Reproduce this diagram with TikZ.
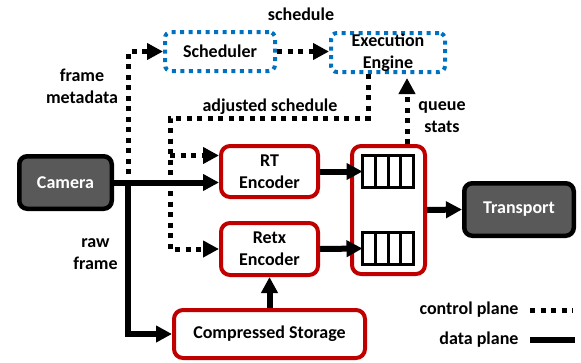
\documentclass[tikz,border=0pt]{standalone}
\usepackage{fontspec}
\setmainfont{Carlito}
\usetikzlibrary{arrows.meta, calc}

\definecolor{boxred}{HTML}{C00000}
\definecolor{ctrlblue}{HTML}{0070C0}
\definecolor{devgray}{HTML}{595959}

\begin{document}
\begin{tikzpicture}[x=1pt, y=-1pt,
		every node/.style={font=\fontsize{18}{22}\selectfont\bfseries, align=center},
		device/.style={fill=devgray, draw=black, line width=4.5pt, rounded corners=8pt, text=white, minimum height=52.5pt},
		module/.style={draw=boxred, fill=white, line width=4pt, rounded corners=9pt},
		planner/.style={draw=ctrlblue, line width=4pt, dash pattern=on 4pt off 4.5pt, rounded corners=6pt, inner ysep=0pt, minimum height=39pt},
		queue/.style={draw=black, fill=white, line width=3pt, minimum width=51pt, minimum height=32pt, inner sep=0pt, outer sep=0pt},
		data/.style={line width=6pt, -{Triangle[length=16pt,width=16pt]}},
		ctrl/.style={line width=5pt, dash pattern=on 5pt off 5.5pt, -{Triangle[length=16pt,width=16pt]}}]
			\useasboundingbox (0,0) rectangle (581,362);
			% boxes
			\node [device, minimum width=92.5pt] (camera) at (65.5,182.5) {Camera};
			\node [device, minimum width=109.5pt] (transport) at (519,209.5) {Transport};
			\node [module, minimum width=97pt, minimum height=51pt] (rt) at (269.5,171.5) {RT\\Encoder};
			\node [module, minimum width=97pt, minimum height=52pt] (retx) at (269.5,249) {Retx\\Encoder};
			\node [module, minimum width=191pt, minimum height=48pt] (storage) at (269.5,334) {Compressed Storage};
			\node [module, minimum width=73pt, minimum height=128pt] (buffer) at (388.5,210) {};
			\node [queue] (rtq) at (388,171.5) {};
			\node [queue] (retxq) at (388,248.5) {};
			\foreach \q in {rtq,retxq}
				\foreach \i in {1,2,3}
					\draw [line width=3pt] ($(\q.north west)!\i/4!(\q.north east)$) -- ($(\q.south west)!\i/4!(\q.south east)$);
			\node [planner, minimum width=110pt] (scheduler) at (220,51.5) {Scheduler};
			\node [planner, minimum width=114pt] (engine) at (388,52.5) {Execution\\Engine};
			% labels
			\node (schedlabel) at (301,14) {schedule};
			\node (metalabel) at (82,86) {frame\\metadata};
			\node (adjlabel) at (270,107) {adjusted schedule};
			\node (statslabel) at (442,117) {queue\\stats};
			\node (rawlabel) at (95.5,254) {raw\\frame};
			\node [anchor=east] (ctrllabel) at (522,310) {control plane};
			\node [anchor=east] (datalabel) at (522,340) {data plane};
			% data plane
			\coordinate (split) at (128,182.5);
			\draw [data] (camera.east) -- (camera.east -| rt.west);
			\draw [data] (split) |- (storage.west);
			\draw [data] (rt.east) -- (rtq.west);
			\draw [data] (retx.east) -- (retxq.west);
			\draw [data] (buffer.east) -- (transport.west);
			\draw [data] (storage.north) -- (retx.south);
			% control plane
			\coordinate (metatap) at (128,174);
			\coordinate (adjcorner) at (170,118);
			\coordinate (rtctl) at ([yshift=16pt]rt.west);
			\coordinate (engtap) at ([xshift=-20pt]engine.south);
			\coordinate (statstap) at ([xshift=18.5pt]buffer.north);
			\draw [ctrl] (metatap) |- (scheduler.west);
			\draw [ctrl] (scheduler.east) -- (scheduler.east -| engine.west);
			\draw [ctrl] (engtap) |- (adjcorner) |- (retx.west);
			\draw [ctrl] (adjcorner |- rtctl) -- (rtctl);
			\draw [ctrl, shorten >=4pt] (statstap) -- (statstap |- engine.south);
			% legend
			\draw [ctrl, -] ([xshift=8pt]ctrllabel.east) -- ++(43,0);
			\draw [data, -] ([xshift=8pt]datalabel.east) -- ++(45,0);
		\end{tikzpicture}
\end{document}
